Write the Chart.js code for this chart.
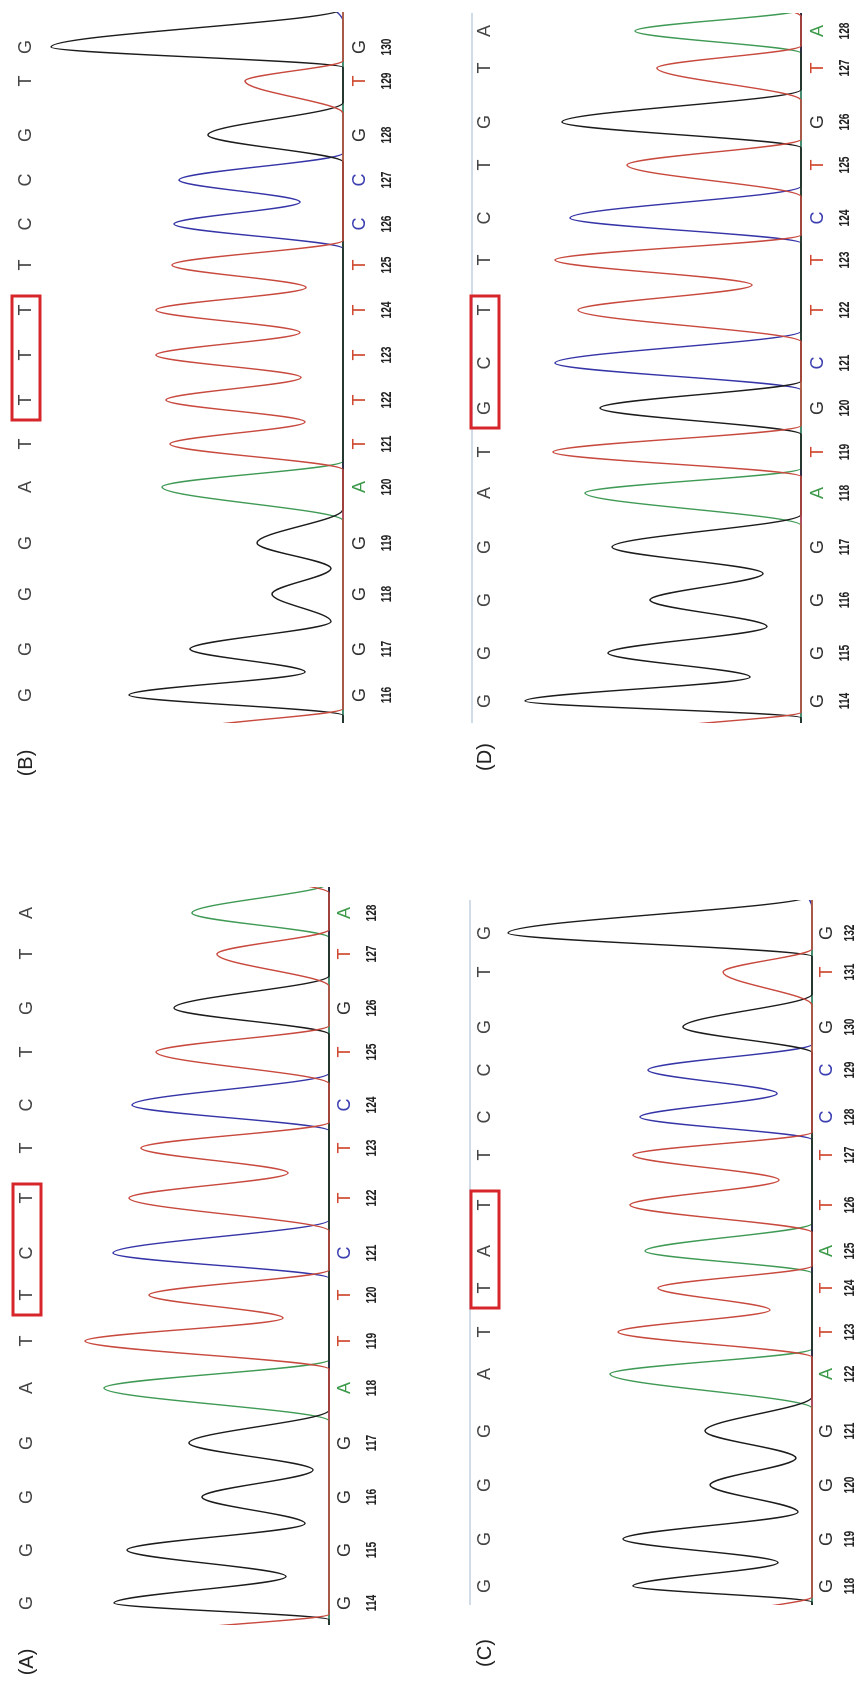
<!DOCTYPE html>
<html>
<head>
<meta charset="utf-8">
<script src="https://cdn.jsdelivr.net/npm/chart.js@4.4.0/dist/chart.umd.min.js"></script>
<style>
  html, body { margin: 0; padding: 0; background: #fff; }
  body { width: 867px; height: 1686px; position: relative; overflow: hidden; }
  .panel { position: absolute; transform-origin: 0 0; }
</style>
</head>
<body>
<div class="panel" id="pA"><canvas id="cA"></canvas></div>
<div class="panel" id="pB"><canvas id="cB"></canvas></div>
<div class="panel" id="pC"><canvas id="cC"></canvas></div>
<div class="panel" id="pD"><canvas id="cD"></canvas></div>
<script>
// (A) 114-128
const aBases = "GGGGATTCTTCTGTA".split("");
const aNumbers = [114, 115, 116, 117, 118, 119, 120, 121, 122, 123, 124, 125, 126, 127, 128];
const aScan = [22, 75, 128, 182, 237, 284, 330, 372, 427, 477, 520, 573, 617, 671, 712];
const aSignal = [215, 202, 127, 140, 225, 244, 180, 216, 200, 188, 197, 173, 155, 112, 137];
const aDip = [43, 24, 16, 0, 0, 46, 0, 0, 41, 0, 0, 0, 0, 0];
const aLead = ["T", -6, 145];
const aTrail = ["T", 762, 160];

// (B) 116-130
const bBases = "GGGGATTTTTCCGTG".split("");
const bNumbers = [116, 117, 118, 119, 120, 121, 122, 123, 124, 125, 126, 127, 128, 129, 130];
const bScan = [28, 74, 129, 180, 236, 279, 323, 368, 413, 458, 499, 543, 588, 642, 676];
const bSignal = [214, 153, 71, 86, 181, 173, 177, 187, 187, 171, 169, 164, 135, 98, 292];
const bDip = [38, 12, 12, 0, 0, 38, 42, 43, 37, 0, 43, 0, 0, 0];
const bLead = ["T", -6, 145];
const bTrail = ["C", 740, 40];

// (C) 118-132
const cBases = "GGGGATTATTCCGTG".split("");
const cNumbers = [118, 119, 120, 121, 122, 123, 124, 125, 126, 127, 128, 129, 130, 131, 132];
const cScan = [19, 66, 120, 174, 231, 273, 317, 354, 400, 450, 488, 535, 578, 633, 672];
const cSignal = [179, 189, 102, 107, 202, 194, 154, 167, 182, 179, 172, 164, 129, 89, 304];
const cDip = [34, 14, 16, 0, 0, 42, 0, 0, 33, 0, 35, 0, 0, 0];
const cLead = ["T", -8, 70];
const cTrail = ["C", 735, 20];

// (D) 114-128
const dBases = "GGGGATGCTTCTGTA".split("");
const dNumbers = [114, 115, 116, 117, 118, 119, 120, 121, 122, 123, 124, 125, 126, 127, 128];
const dScan = [22, 70, 123, 176, 230, 271, 315, 360, 413, 463, 505, 558, 601, 655, 692];
const dSignal = [276, 193, 151, 189, 216, 248, 201, 246, 223, 246, 231, 174, 239, 144, 166];
const dDip = [51, 34, 38, 0, 0, 0, 0, 0, 49, 0, 0, 0, 0, 0];
const dLead = ["T", -6, 135];
const dTrail = ["T", 728, 60];

// boxed calls (indices into the base arrays)
const boxed = [6, 8];

const traceColour = { T: "#c8493e", G: "#1c1c1c", A: "#3f9a55", C: "#3535a8" };
const callColour = { T: "#cf4a30", G: "#333333", A: "#3c9a4a", C: "#3b3fb0" };

function buildSeq(bases, scan, signal, dip, lead, trail) {
  const seq = [{ b: lead[0], x: lead[1], y: lead[2], dip: 0 }];
  for (let i = 0; i < bases.length; i++) {
    seq.push({ b: bases[i], x: scan[i], y: signal[i], dip: i < dip.length ? dip[i] : 0 });
  }
  seq.push({ b: trail[0], x: trail[1], y: trail[2], dip: 0 });
  return seq;
}

function tracePoints(base, seq, xMax) {
  const pts = [{ x: -100, y: 0 }];
  for (let i = 0; i < seq.length; i++) {
    const p = seq[i];
    if (p.b !== base) continue;
    const prev = seq[i - 1];
    const next = seq[i + 1];
    if (!prev || prev.b !== base) {
      pts.push({ x: prev ? p.x - 0.6 * (p.x - prev.x) : p.x - 30, y: 0 });
    }
    pts.push({ x: p.x, y: p.y });
    if (next && next.b === base) {
      pts.push({ x: (p.x + next.x) / 2, y: p.dip });
    } else {
      pts.push({ x: next ? p.x + 0.6 * (next.x - p.x) : p.x + 30, y: 0 });
    }
  }
  pts.push({ x: xMax + 100, y: 0 });
  return pts;
}

function callsPlugin(p) {
  return {
    id: "calls" + p.tag,
    afterDraw(chart) {
      const ctx = chart.ctx;
      const xs = chart.scales.x;
      const area = chart.chartArea;
      ctx.save();
      ctx.textAlign = "center";
      ctx.textBaseline = "middle";
      if (p.guideY !== null) {
        ctx.strokeStyle = "#c3d0e0";
        ctx.lineWidth = 1.5;
        ctx.beginPath();
        ctx.moveTo(area.left, p.guideY);
        ctx.lineTo(area.right, p.guideY);
        ctx.stroke();
      }
      p.bases.forEach((b, i) => {
        const x = xs.getPixelForValue(p.scan[i]);
        ctx.font = "18px 'Liberation Sans'";
        ctx.fillStyle = "#454545";
        ctx.fillText(b, x, p.callY);
        ctx.fillStyle = callColour[b];
        ctx.fillText(b, x, p.baseY);
        ctx.font = "bold 15px 'Liberation Sans'";
        ctx.fillStyle = "#222";
        ctx.save();
        ctx.translate(x, p.numY);
        ctx.scale(0.68, 1);
        ctx.fillText(String(p.numbers[i]), 0, 0);
        ctx.restore();
      });
      const x0 = xs.getPixelForValue(p.scan[boxed[0]]) - 20;
      const x1 = xs.getPixelForValue(p.scan[boxed[1]]) + 14;
      ctx.strokeStyle = "#d7262b";
      ctx.lineWidth = 3;
      ctx.strokeRect(x0, p.callY - 14, x1 - x0, 28);
      ctx.font = "20px 'Liberation Sans'";
      ctx.fillStyle = "#222";
      ctx.fillText("(" + p.tag + ")", xs.getPixelForValue(0) - p.tagShift, p.callY);
      ctx.restore();
    }
  };
}

function makePanel(p) {
  const box = document.getElementById("p" + p.tag);
  const canvas = document.getElementById("c" + p.tag);
  box.style.left = p.left + "px";
  box.style.top = p.top + "px";
  box.style.width = p.width + "px";
  box.style.height = p.height + "px";
  box.style.transform = "translateY(" + p.width + "px) rotate(-90deg)";
  canvas.width = p.width;
  canvas.height = p.height;
  canvas.style.width = p.width + "px";
  canvas.style.height = p.height + "px";

  const seq = buildSeq(p.bases, p.scan, p.signal, p.dip, p.lead, p.trail);
  const datasets = ["T", "G", "A", "C"].map((b) => ({
    label: b,
    data: tracePoints(b, seq, p.xMax),
    borderColor: traceColour[b],
    borderWidth: 1.4,
    pointRadius: 0,
    fill: false,
    cubicInterpolationMode: "monotone",
    clip: { left: 0, right: 0, top: false, bottom: false },
  }));

  new Chart(canvas, {
    type: "line",
    data: { datasets: datasets },
    options: {
      responsive: false,
      animation: false,
      events: [],
      layout: {
        padding: { left: p.padLeft, right: p.padRight, top: 10, bottom: p.height - p.baseline },
      },
      scales: {
        x: { type: "linear", min: 0, max: p.xMax, display: false },
        y: { min: 0, max: p.baseline - 10, display: false },
      },
      plugins: { legend: { display: false }, tooltip: { enabled: false } },
    },
    plugins: [callsPlugin(p)],
  });
}

makePanel({
  tag: "A", bases: aBases, numbers: aNumbers, scan: aScan, signal: aSignal, dip: aDip, lead: aLead, trail: aTrail,
  left: 0, top: 866, width: 820, height: 430, padLeft: 61, padRight: 21, xMax: 738,
  baseline: 329, callY: 27, baseY: 345, numY: 372, tagShift: 37, guideY: null,
});
makePanel({
  tag: "B", bases: bBases, numbers: bNumbers, scan: bScan, signal: bSignal, dip: bDip, lead: bLead, trail: bTrail,
  left: 0, top: 0, width: 860, height: 430, padLeft: 137, padRight: 12, xMax: 711,
  baseline: 343, callY: 26, baseY: 360, numY: 387, tagShift: 40, guideY: null,
});
makePanel({
  tag: "C", bases: cBases, numbers: cNumbers, scan: cScan, signal: cSignal, dip: cDip, lead: cLead, trail: cTrail,
  left: 430, top: 866, width: 820, height: 437, padLeft: 81, padRight: 34, xMax: 705,
  baseline: 382, callY: 55, baseY: 397, numY: 420, tagShift: 48, guideY: 40,
});
makePanel({
  tag: "D", bases: dBases, numbers: dNumbers, scan: dScan, signal: dSignal, dip: dDip, lead: dLead, trail: dTrail,
  left: 430, top: 0, width: 860, height: 437, padLeft: 137, padRight: 13, xMax: 710,
  baseline: 371, callY: 55, baseY: 388, numY: 415, tagShift: 34, guideY: 42,
});
</script>
</body>
</html>
